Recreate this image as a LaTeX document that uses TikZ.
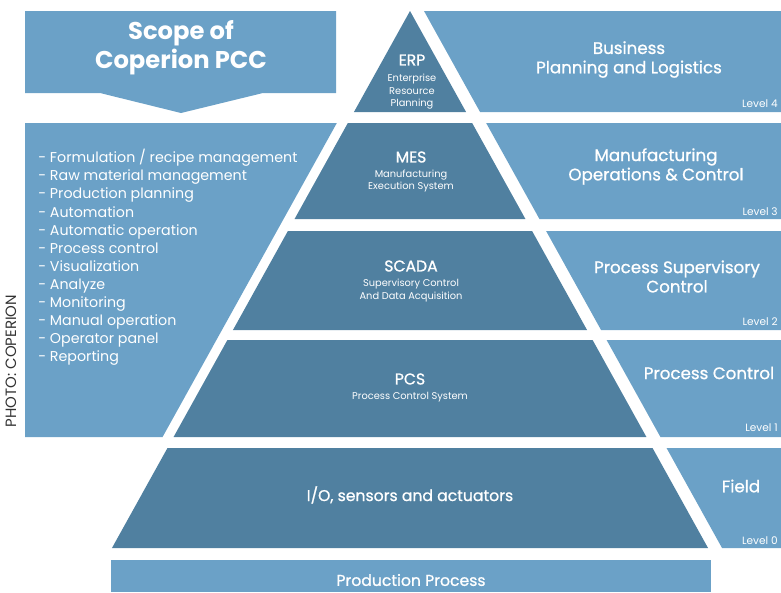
\documentclass[tikz,border=0pt]{standalone}
\usepackage{fontspec}
\setmainfont{Poppins}
\newfontfamily\medfont{Poppins}[FakeBold=0.9]
\definecolor{paleblue}{RGB}{107,161,199}
\definecolor{deepblue}{RGB}{80,128,160}
\tikzset{
  scopetext/.style={text=white,align=center,inner sep=0,font=\fontsize{13.8}{16.4}\selectfont\bfseries},
  headtext/.style={text=white,align=center,inner sep=0,font=\fontsize{8.9}{10}\selectfont\medfont},
  subtext/.style={text=white,align=center,inner sep=0,font=\fontsize{5.6}{7.1}\selectfont},
  sidetext/.style={text=white,align=center,inner sep=0,font=\fontsize{9.5}{11}\selectfont\medfont},
  leveltext/.style={text=white,anchor=east,inner sep=0,font=\fontsize{6}{7}\selectfont},
  listtext/.style={text=white,align=left,anchor=north west,inner sep=0,font=\fontsize{8.1}{10.3}\selectfont}
}
\begin{document}
\begin{tikzpicture}[x=0.02cm,y=-0.02cm]
    \pgfmathsetmacro{\topx}{410}
    \pgfmathsetmacro{\topy}{11}
    \pgfmathsetmacro{\slope}{0.555}
    \pgfmathsetmacro{\gapright}{14}
    \pgfmathsetmacro{\gapleft}{11}
    \providecommand{\edgeL}[1]{\topx-\slope*(#1-\topy)}
    \providecommand{\edgeR}[1]{\topx+\slope*(#1-\topy)}
    \useasboundingbox (0,0) rectangle (781,592);

    % scope box with its arrow
    \fill[paleblue] (25,11) -- (336,11) -- (336,93) -- (263,93) -- (181,113) -- (100,93) -- (25,93) -- cycle;
    % list box left of the pyramid
    \fill[paleblue] (25,123) -- ({\edgeL{123}-\gapleft},123) -- ({\edgeL{437}-\gapleft},437) -- (25,437) -- cycle;

    % pyramid layers
    \fill[deepblue] (\topx,\topy) -- ({\edgeR{112}},112) -- ({\edgeL{112}},112) -- cycle;
    \fill[deepblue] ({\edgeL{123}},123) -- ({\edgeR{123}},123) -- ({\edgeR{219}},219) -- ({\edgeL{219}},219) -- cycle;
    \fill[deepblue] ({\edgeL{231}},231) -- ({\edgeR{231}},231) -- ({\edgeR{330}},330) -- ({\edgeL{330}},330) -- cycle;
    \fill[deepblue] ({\edgeL{340}},340) -- ({\edgeR{340}},340) -- ({\edgeR{437}},437) -- ({\edgeL{437}},437) -- cycle;
    \fill[deepblue] ({\edgeL{448}},448) -- ({\edgeR{448}},448) -- ({\edgeR{548}},548) -- ({\edgeL{548}},548) -- cycle;

    % level boxes on the right
    \fill[paleblue] ({\edgeR{11}+\gapright},11) -- (781,11) -- (781,112) -- ({\edgeR{112}+\gapright},112) -- cycle;
    \fill[paleblue] ({\edgeR{123}+\gapright},123) -- (781,123) -- (781,219) -- ({\edgeR{219}+\gapright},219) -- cycle;
    \fill[paleblue] ({\edgeR{231}+\gapright},231) -- (781,231) -- (781,330) -- ({\edgeR{330}+\gapright},330) -- cycle;
    \fill[paleblue] ({\edgeR{340}+\gapright},340) -- (781,340) -- (781,437) -- ({\edgeR{437}+\gapright},437) -- cycle;
    \fill[paleblue] ({\edgeR{448}+\gapright},448) -- (781,448) -- (781,548) -- ({\edgeR{548}+\gapright},548) -- cycle;

    \fill[paleblue] (111,560) rectangle (711,592);

    \node[scopetext] (scope) at (181,48) {Scope of\\Coperion PCC};
    \node[listtext] (tasks) at (38,149) {- Formulation / recipe management\\- Raw material management\\- Production planning\\- Automation\\- Automatic operation\\- Process control\\- Visualization\\- Analyze\\- Monitoring\\- Manual operation\\- Operator panel\\- Reporting};

    \node[headtext] (erp) at (412,60) {ERP};
    \node[subtext] (erpsub) at (412,92) {Enterprise\\Resource\\Planning};
    \node[headtext] (mes) at (411,157) {MES};
    \node[subtext] (messub) at (411,181) {Manufacturing\\Execution System};
    \node[headtext] (scada) at (411,266) {SCADA};
    \node[subtext] (scadasub) at (411,290.5) {Supervisory Control\\And Data Acquisition};
    \node[headtext] (pcs) at (410,379) {PCS};
    \node[subtext] (pcssub) at (410,397) {Process Control System};
    \node[headtext] (field) at (410,495) {I/O, sensors and actuators};
    \node[headtext] (prod) at (411,580) {Production Process};

    \node[sidetext] (lvlfour) at (629,59.5) {Business\\Planning and Logistics};
    \node[sidetext] (lvlthree) at (656,166.5) {Manufacturing\\Operations \& Control};
    \node[sidetext] (lvltwo) at (677,276.5) {Process Supervisory\\Control};
    \node[sidetext] (lvlone) at (709,373) {Process Control};
    \node[sidetext] (lvlzero) at (741,486) {Field};

    \node[leveltext] (numfour) at (778,104) {Level 4};
    \node[leveltext] (numthree) at (778,212) {Level 3};
    \node[leveltext] (numtwo) at (778,322) {Level 2};
    \node[leveltext] (numone) at (778,428) {Level 1};
    \node[leveltext] (numzero) at (778,541) {Level 0};

    \node[rotate=90,inner sep=0,text=black!80,font=\fontsize{8.5}{9}\selectfont] (photo) at (11,361) {PHOTO: COPERION};
\end{tikzpicture}
\end{document}
